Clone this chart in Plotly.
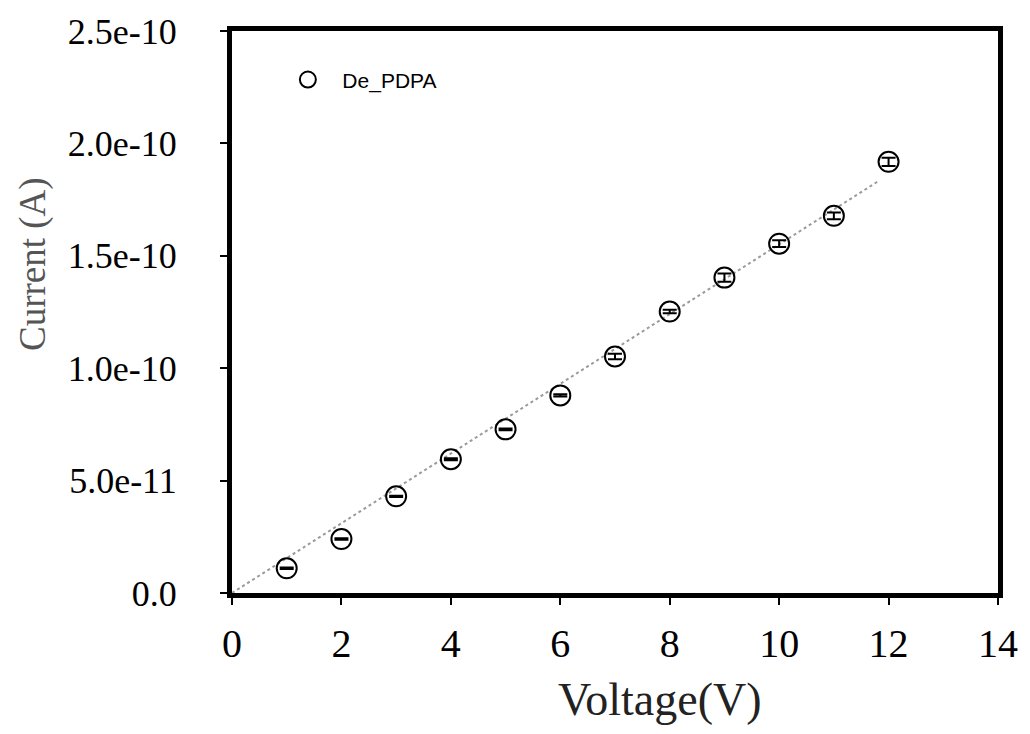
import plotly.graph_objects as go

voltage = [1, 2, 3, 4, 5, 6, 7, 8, 9, 10, 11, 12]
current = [1.1e-11, 2.4e-11, 4.3e-11, 5.95e-11, 7.28e-11, 8.79e-11,
           1.052e-10, 1.252e-10, 1.403e-10, 1.554e-10, 1.678e-10, 1.918e-10]
current_err = [0.3e-12, 0.3e-12, 0.3e-12, 0.4e-12, 0.4e-12, 0.5e-12,
               1.2e-12, 0.8e-12, 1.8e-12, 1.5e-12, 1.5e-12, 1.8e-12]
fit_x = [0, 11.8]
fit_y = [0, 1.83e-10]

x_ticks = [0, 2, 4, 6, 8, 10, 12, 14]
x_ticktext = ["0", "2", "4", "6", "8", "10", "12", "14"]
y_ticks = [0, 5.0e-11, 1.0e-10, 1.5e-10, 2.0e-10, 2.5e-10]
y_ticktext = ["0.0", "5.0e-11", "1.0e-10", "1.5e-10", "2.0e-10", "2.5e-10"]

fig = go.Figure()
fig.add_trace(go.Scatter(
    x=fit_x, y=fit_y, mode="lines",
    line=dict(color="#9a9a9a", width=2, dash="dot"),
    showlegend=False, hoverinfo="skip"))
fig.add_trace(go.Scatter(
    x=voltage, y=current, mode="markers", name="De_PDPA",
    marker=dict(symbol="circle-open", size=20, color="black",
                line=dict(width=2, color="black")),
    error_y=dict(type="data", array=current_err, visible=True,
                 color="black", thickness=2, width=7)))

serif = "Liberation Serif, Times New Roman, serif"
fig.update_layout(
    width=1030, height=734,
    margin=dict(l=232, r=23, t=30, b=141),
    paper_bgcolor="white", plot_bgcolor="white",
    showlegend=True,
    legend=dict(x=0.054, y=0.913, xanchor="left", yanchor="middle",
                bgcolor="rgba(0,0,0,0)", itemwidth=59,
                font=dict(family="Liberation Sans, Arial, sans-serif", size=21, color="black")),
    xaxis=dict(range=[0, 14], tickvals=x_ticks, ticktext=x_ticktext,
               showgrid=False, zeroline=False,
               showline=True, linecolor="black", linewidth=5, mirror=True,
               ticks="outside", ticklen=7, tickwidth=1.5, tickcolor="black",
               ticklabelstandoff=4,
               tickfont=dict(family=serif, size=40, color="black")),
    yaxis=dict(range=[0, 2.5e-10], tickvals=y_ticks, ticktext=y_ticktext,
               showgrid=False, zeroline=False,
               showline=True, linecolor="black", linewidth=5, mirror=True,
               ticks="outside", ticklen=7, tickwidth=1.5, tickcolor="black",
               ticklabelstandoff=36,
               tickfont=dict(family=serif, size=36, color="black")),
    annotations=[
        dict(text="Voltage(V)", xref="paper", yref="paper",
             x=0.5587, y=-0.19, xanchor="center", yanchor="middle",
             showarrow=False,
             font=dict(family=serif, size=46, color="#222")),
        dict(text="Current (A)", xref="paper", yref="paper",
             x=-0.2606, y=0.586, xanchor="center", yanchor="middle",
             textangle=-90, showarrow=False,
             font=dict(family=serif, size=37, color="#555")),
    ],
)

fig.write_html("out.html")
